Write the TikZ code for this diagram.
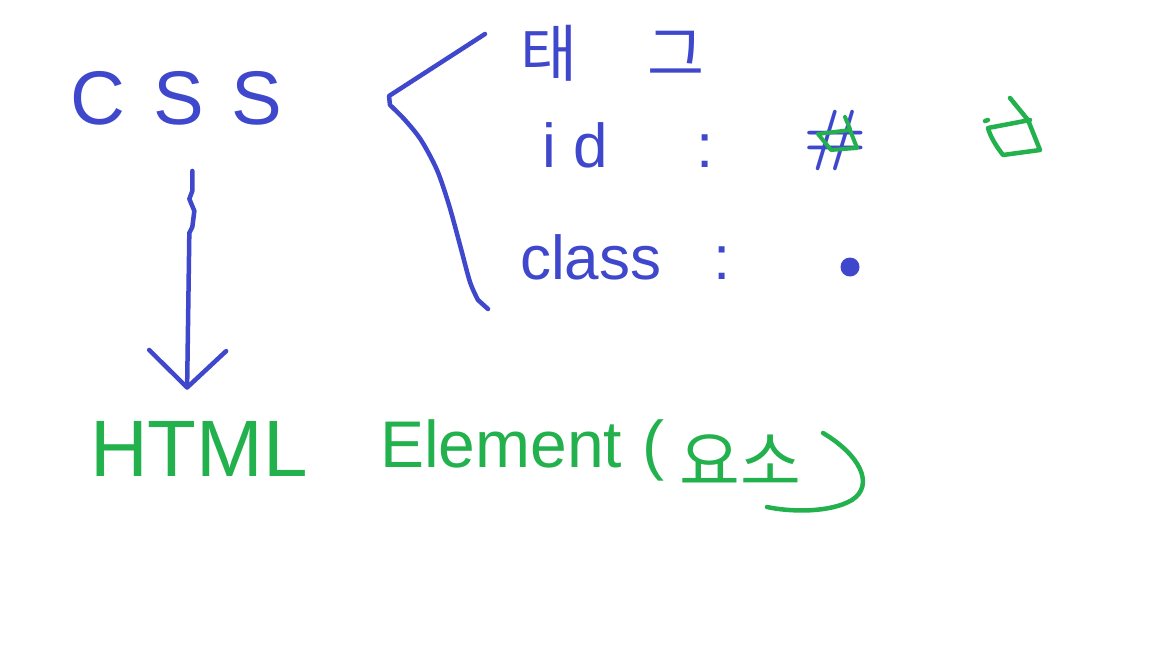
\documentclass[tikz,border=0pt]{standalone}
\usepackage{fontspec}
\setmainfont{Liberation Sans}
\newfontfamily\kr{Noto Sans CJK KR}
\newfontfamily\lmr{Latin Modern Roman}
\usetikzlibrary{arrows.meta,calc}
\definecolor{penblue}{RGB}{63,72,204}
\definecolor{pengreen}{RGB}{34,177,76}
\begin{document}
\begin{tikzpicture}[x=1pt,y=-1pt,
  blueink/.style={draw=penblue,line width=4.5pt,line cap=round,line join=round},
  greenink/.style={draw=pengreen,line width=4.5pt,line cap=round,line join=round},
  bluetext/.style={text=penblue,inner sep=0pt,anchor=base west},
  greentext/.style={text=pengreen,inner sep=0pt,anchor=base west}]
\fill[white] (0,0) rectangle (1152,648);
\useasboundingbox (0,0) rectangle (1152,648);

% texts
\node[bluetext,font=\fontsize{76}{76}\selectfont] (css) at (70,124) {C\hspace{28pt}S\hspace{28pt}S};
\node[bluetext,font=\kr\fontsize{62}{62}\selectfont] (tag) at (520,76) {태\hspace{70pt}그};
\node[bluetext,font=\fontsize{62}{62}\selectfont] (id) at (542,167) {i\hspace{18pt}d\hspace{88pt}:};
\node[text=penblue,font=\lmr\bfseries\fontsize{68}{68}\selectfont,inner sep=0pt] (hash) at (835,140) {\#};
\node[bluetext,font=\fontsize{62}{62}\selectfont] (class) at (520,279) {class\hspace{52pt}:};
\node[circle,fill=penblue,minimum size=19pt,inner sep=0pt] (dot) at (850,267) {};
\node[greentext,font=\fontsize{80}{80}\selectfont] (html) at (90,476) {HTML};
\node[greentext,font=\fontsize{66}{66}\selectfont] (elem) at (380,467) {Element\hspace{20pt}(\hspace{15pt}\raisebox{-18pt}{\kr 요소}};

% bracket
\draw[blueink] (485,34) -- (389,96) -- plot[smooth] coordinates {(390,105) (405,120) (421,140) (437,170) (449,205) (460,245) (470,282) (478,300)} -- (488,309);

% arrow CSS -> HTML
\draw[blueink,-{Straight Barb[length=37pt,width=77pt,round]}]
  ($(css.south)+(16,46)$) -- ++(0,20) -- ++(-3,8) -- ++(5,12) -- ++(-2,16) -- ++(-3,6)
  -- ($(html.north)+(-12,-31)$);

% green marks
\draw[greenink,line width=4pt] (818,134) -- (850,130) -- (857,148) -- (831,150) -- cycle;
\draw[greenink,line width=4pt] (845,117) -- (850,129);
\draw[greenink] (1010,98) -- (1028,120) -- (1040,150) -- (1003,155) .. controls (996,146) and (990,136) .. (988,128) -- (1030,120);
\draw[greenink] (985,121) -- (988,120);
\draw[greenink] (823,433) .. controls (860,455) and (875,485) .. (852,500) .. controls (830,513) and (790,512) .. (767,507);
\end{tikzpicture}
\end{document}
